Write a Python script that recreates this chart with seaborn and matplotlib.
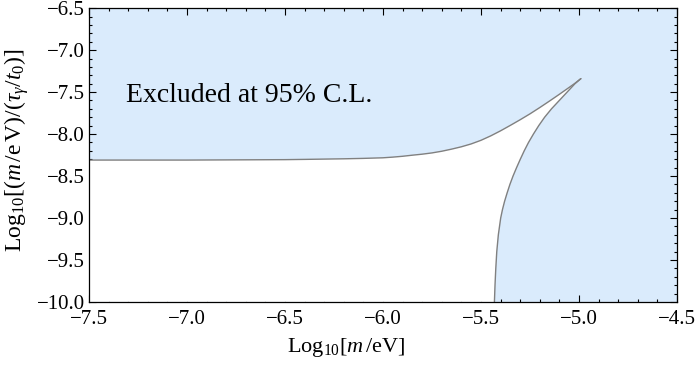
import matplotlib
matplotlib.use('Agg')
import matplotlib.pyplot as plt
import seaborn as sns
import numpy as np
import pandas as pd
from matplotlib.ticker import MultipleLocator

sns.set_style('ticks')
plt.rcParams['font.family'] = ['Liberation Serif', 'DejaVu Serif']
plt.rcParams['mathtext.fontset'] = 'custom'
plt.rcParams['mathtext.rm'] = 'Liberation Serif'
plt.rcParams['mathtext.it'] = 'Liberation Serif:italic'
plt.rcParams['axes.unicode_minus'] = True
plt.rcParams['text.color'] = 'black'
plt.rcParams['axes.labelcolor'] = 'black'
plt.rcParams['xtick.color'] = 'black'
plt.rcParams['ytick.color'] = 'black'

# 上支：排除区下边界 (log10 m, log10 比值)
upper_x = [-7.5, -7.0, -6.8, -6.5, -6.4, -6.2, -6.1, -6.0, -5.95, -5.9, -5.85, -5.8, -5.75, -5.7,
           -5.65, -5.6, -5.55, -5.5, -5.45, -5.4, -5.35, -5.3, -5.25, -5.2, -5.15, -5.1, -5.05, -5.02, -4.99]
upper_y = [-8.31, -8.31, -8.308, -8.305, -8.302, -8.295, -8.29, -8.283, -8.275, -8.265, -8.252, -8.24, -8.225, -8.205,
           -8.18, -8.152, -8.118, -8.075, -8.022, -7.962, -7.897, -7.83, -7.76, -7.685, -7.607, -7.527, -7.445, -7.395, -7.34]

# 下支：从尖端往下
lower_x = [-4.99, -5.02, -5.06, -5.10, -5.14, -5.175, -5.205, -5.232, -5.257, -5.279, -5.299, -5.318,
           -5.336, -5.352, -5.366, -5.379, -5.390, -5.399, -5.411, -5.419, -5.424, -5.428, -5.431]
lower_y = [-7.34, -7.40, -7.50, -7.60, -7.70, -7.80, -7.90, -8.00, -8.10, -8.20, -8.30, -8.40,
           -8.50, -8.60, -8.70, -8.80, -8.90, -9.00, -9.20, -9.40, -9.60, -9.80, -10.0]

xlim = (-7.5, -4.5)
ylim = (-10.0, -6.5)

fill_color = '#DAEBFC'
line_color = '#808080'

fig = plt.figure(figsize=(7, 3.7), dpi=100)
ax = fig.add_axes([0.127, 0.184, 0.84, 0.794])
ax.set_facecolor(fill_color)

# 允许区（白色）
poly_x = [xlim[0]] + upper_x + lower_x[1:] + [xlim[0]]
poly_y = [ylim[0]] + upper_y + lower_y[1:] + [ylim[0]]
ax.fill(poly_x, poly_y, color='white', lw=0, zorder=1)

df_up = pd.DataFrame({'x': upper_x, 'y': upper_y})
df_lo = pd.DataFrame({'x': lower_x, 'y': lower_y})
sns.lineplot(data=df_up, x='x', y='y', sort=False, color=line_color, lw=1.0, ax=ax, zorder=2)
sns.lineplot(data=df_lo, x='x', y='y', sort=False, color=line_color, lw=1.0, ax=ax, zorder=2)

ax.set_xlim(*xlim)
ax.set_ylim(*ylim)

ax.xaxis.set_major_locator(MultipleLocator(0.5))
ax.xaxis.set_minor_locator(MultipleLocator(0.1))
ax.yaxis.set_major_locator(MultipleLocator(0.5))
ax.yaxis.set_minor_locator(MultipleLocator(0.1))
ax.tick_params(which='both', direction='in', top=True, right=True, labelsize=15, width=0.8)
ax.tick_params(which='major', length=5)
ax.tick_params(which='minor', length=2.5)
ax.tick_params(axis='x', pad=6)
ax.tick_params(axis='y', pad=3)
for s in ax.spines.values():
    s.set_linewidth(0.9)
    s.set_color('black')

ax.set_xlabel(r'Log$_{10}$[$m\,/\mathrm{eV}$]', fontsize=16)
ax.set_ylabel(r'Log$_{10}$[($m\,/\mathrm{e\,V}$)/($\tau_{\gamma}/t_0$)]', fontsize=17)
ax.xaxis.set_label_coords(0.437, -0.115)
ax.yaxis.set_label_coords(-0.098, 0.517)

ax.text(-7.31, -7.54, 'Excluded at 95% C.L.', fontsize=20, va='center', ha='left', zorder=3)

fig.savefig('out.png', dpi=100)
plt.close()
